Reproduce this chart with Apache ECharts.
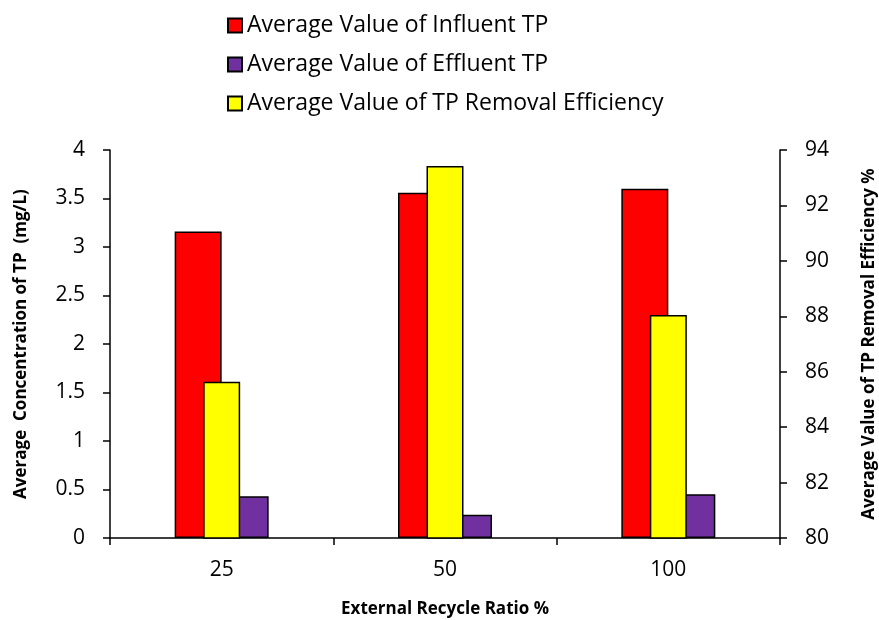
<!DOCTYPE html>
<html>
<head>
<meta charset="utf-8">
<script src="https://cdn.jsdelivr.net/npm/echarts@6/dist/echarts.min.js"></script>
<style>
  html, body { margin: 0; padding: 0; background: #fff; }
  #chart { width: 879px; height: 620px; }
</style>
</head>
<body>
<div id="chart"></div>
<script>
// recycle ratio categories
var ratios = ['25', '50', '100'];
// mg/L, left axis
var influentTP = [3.16, 3.56, 3.60];
var effluentTP = [0.43, 0.24, 0.45];
// %, right axis
var removalEff = [85.64, 93.42, 88.05];

var leftTicks = { min: 0, max: 4, interval: 0.5 };
var rightTicks = { min: 80, max: 94, interval: 2 };

var FONT = 'Open Sans';
var chart = echarts.init(document.getElementById('chart'));

var axisLine = { show: true, lineStyle: { color: '#000', width: 1.5 } };
var tick = function (len) {
    return { show: true, inside: false, length: len, lineStyle: { color: '#000', width: 1.5 } };
};
var nameStyle = { color: '#000', fontSize: 17, fontWeight: 'bold', fontFamily: FONT };

chart.setOption({
    backgroundColor: '#fff',
    animation: false,
    textStyle: { fontFamily: FONT },
    legend: {
        orient: 'vertical',
        left: 222,
        top: 9,
        itemWidth: 14,
        itemHeight: 14,
        itemGap: 16,
        icon: 'rect',
        textStyle: { fontFamily: FONT, fontSize: 23, color: '#000' },
        data: ['Average Value of Influent TP', 'Average Value of Effluent TP', 'Average Value of TP Removal Efficiency']
    },
    grid: { left: 110, right: 99, top: 150, bottom: 82, outerBoundsMode: 'none' },
    xAxis: [{
        type: 'category',
        data: ratios,
        axisLine: axisLine,
        axisTick: tick(7),
        axisLabel: { color: '#000', fontSize: 21, margin: 22, fontFamily: FONT },
        name: 'External Recycle Ratio %',
        nameLocation: 'middle',
        nameGap: 63,
        nameTextStyle: nameStyle
    }, {
        type: 'category',
        data: ratios,
        show: false
    }],
    yAxis: [{
        type: 'value',
        min: leftTicks.min, max: leftTicks.max, interval: leftTicks.interval,
        position: 'left',
        axisLine: axisLine,
        axisTick: tick(7),
        splitLine: { show: false },
        axisLabel: { color: '#000', fontSize: 21, margin: 25, fontFamily: FONT },
        name: 'Average  Concentration of TP  (mg/L)',
        nameLocation: 'middle',
        nameRotate: 90,
        nameGap: 80,
        nameTextStyle: nameStyle
    }, {
        type: 'value',
        min: rightTicks.min, max: rightTicks.max, interval: rightTicks.interval,
        position: 'right',
        axisLine: axisLine,
        axisTick: tick(7),
        splitLine: { show: false },
        axisLabel: { color: '#000', fontSize: 21, margin: 25, fontFamily: FONT },
        name: 'Average Value of TP Removal Efficiency %',
        nameLocation: 'middle',
        nameRotate: 90,
        nameGap: 81,
        nameTextStyle: nameStyle
    }],
    series: [{
        name: 'Average Value of Influent TP',
        type: 'bar',
        xAxisIndex: 0, yAxisIndex: 0,
        barWidth: 47, barGap: '0%',
        itemStyle: { color: '#ff0000', borderColor: '#000', borderWidth: 1.5 },
        data: influentTP
    }, {
        name: 'Average Value of Effluent TP',
        type: 'bar',
        xAxisIndex: 0, yAxisIndex: 0,
        barWidth: 47, barGap: '0%',
        itemStyle: { color: '#7030a0', borderColor: '#000', borderWidth: 1.5 },
        data: effluentTP
    }, {
        name: 'Average Value of TP Removal Efficiency',
        type: 'bar',
        xAxisIndex: 1, yAxisIndex: 1,
        barWidth: 37,
        z: 3,
        itemStyle: { color: '#ffff00', borderColor: '#000', borderWidth: 1.5 },
        data: removalEff
    }]
});
</script>
</body>
</html>
